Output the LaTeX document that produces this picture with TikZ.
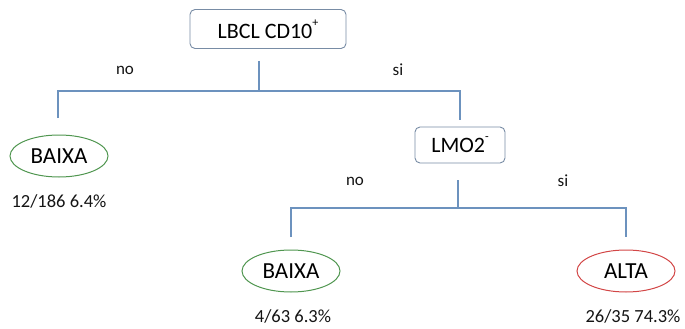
\documentclass[tikz,border=0pt]{standalone}
\usepackage{fontspec}
\setmainfont{Carlito}
\begin{document}
\begin{tikzpicture}[x=1pt,y=-1pt,
  treeline/.style={draw=linecol,line width=2.9pt},
  decbox/.style={draw=boxcol,line width=0.9pt,rounded corners=5pt,fill=white,font=\fontsize{22}{24}\selectfont},
  leafg/.style={ellipse,draw=greencol,line width=1pt,minimum width=98pt,minimum height=42pt,inner sep=0pt,font=\fontsize{23}{24}\selectfont},
  leafr/.style={ellipse,draw=redcol,line width=1pt,minimum width=98pt,minimum height=42pt,inner sep=0pt,font=\fontsize{23}{24}\selectfont},
  lbl/.style={font=\fontsize{17}{18}\selectfont,text=textcol},
  stat/.style={font=\fontsize{18.5}{20}\selectfont,text=textcol,inner sep=1pt}]
\usetikzlibrary{shapes.geometric}
\definecolor{linecol}{RGB}{108,146,190}
\definecolor{boxcol}{RGB}{120,140,165}
\definecolor{greencol}{RGB}{80,150,80}
\definecolor{redcol}{RGB}{210,70,70}
\definecolor{textcol}{RGB}{20,20,20}
\useasboundingbox (0,0) rectangle (685,329);
% nodes
\node[decbox,minimum width=156pt,minimum height=39pt] (root) at (268,29) {LBCL CD10\raisebox{0.55em}{\fontsize{12}{12}\selectfont +}};
\node[leafg] (baixa1) at (59,156) {BAIXA};
\node[stat] (st1) at (59,201) {12/186 6.4\%};
\node[decbox,minimum width=90pt,minimum height=36pt] (lmo) at (460,145) {LMO2\raisebox{0.55em}{\fontsize{12}{12}\selectfont -}};
\node[leafg] (baixa2) at (291,271) {BAIXA};
\node[stat] (st2) at (293,316) {4/63 6.3\%};
\node[leafr] (alta) at (626,271) {ALTA};
\node[stat] (st3) at (633,316) {26/35 74.3\%};
\node[lbl] (no1) at (125,70) {no};
\node[lbl] (si1) at (398,70) {si};
\node[lbl] (no2) at (355,181) {no};
\node[lbl] (si2) at (563,181) {si};
% connector points
\coordinate (s1) at (259,61);
\coordinate (j1) at (259,91);
\coordinate (l1) at (58,91);
\coordinate (r1) at (460,91);
\coordinate (l1e) at (58,118);
\coordinate (r1e) at (460,120);
\coordinate (s2) at (458,180);
\coordinate (j2) at (458,208);
\coordinate (l2) at (291,208);
\coordinate (r2) at (626,208);
\coordinate (l2e) at (291,237);
\coordinate (r2e) at (626,237);
\draw[treeline] (s1) -- (j1);
\draw[treeline,line join=miter] (l1e) -- (l1) -- (r1) -- (r1e);
\draw[treeline] (s2) -- (j2);
\draw[treeline,line join=miter] (l2e) -- (l2) -- (r2) -- (r2e);
\end{tikzpicture}
\end{document}
